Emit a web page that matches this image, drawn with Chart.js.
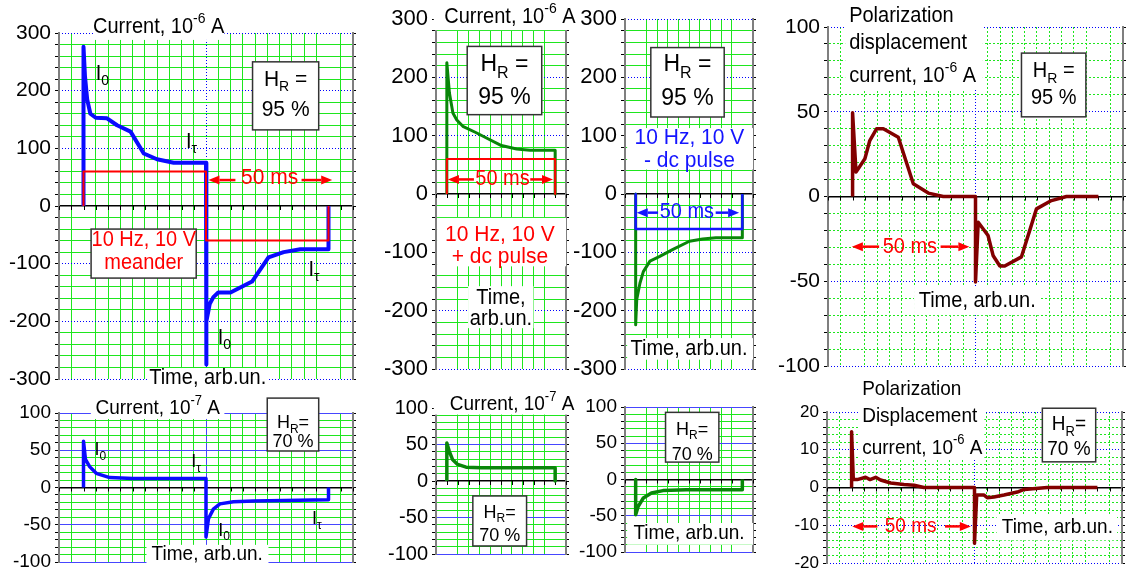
<!DOCTYPE html>
<html>
<head>
<meta charset="utf-8">
<script src="https://cdn.jsdelivr.net/npm/chart.js@4.4.0/dist/chart.umd.min.js"></script>
<style>
  html, body { margin: 0; padding: 0; background: #fff; width: 1127px; height: 572px; overflow: hidden; position: relative; }
  canvas { position: absolute; }
</style>
</head>
<body>
<script>
// time axis in ms, currents in the unit shown in each panel title

// top left: meander, HR 95 %
const aBlueX = [0, 0, 0.6, 1.5, 2.8, 5, 9.6, 13.7, 19.2, 24.6, 30, 36.8, 50, 50, 50.3, 51.5, 53, 55, 60, 68.8, 75.5, 81.7, 88.5, 100, 100];
const aBlueY = [0, 276, 225, 185, 160, 153, 152, 140, 129, 91, 81, 75, 75, -275, -200, -170, -158, -150, -150, -131, -89, -80, -75, -75, 0];
const aRedX = [0, 0, 50, 50, 100, 100];
const aRedY = [0, 60, 60, -60, -60, 0];

// top middle: + dc pulse / - dc pulse
const bGreenX = [0, 0, 1.2, 2.8, 4.6, 7.4, 13.6, 18.3, 25.2, 32.2, 38.4, 50, 50];
const bGreenY = [0, 225, 173, 139, 127, 116, 105, 96, 83, 77, 75, 75, 0];
const bRedX = [0, 0, 50, 50];
const bRedY = [0, 60, 60, 0];
const cGreenX = [0, 0, 0.5, 2, 3.6, 6.7, 11.3, 17.5, 25.2, 31.4, 37.6, 50, 50];
const cGreenY = [0, -224, -181, -153, -133, -115, -107, -95, -81, -77, -75, -75, 0];
const cBlueX = [0, 0, 50, 50];
const cBlueY = [0, -60, -60, 0];

// top right: polarization displacement current, HR 95 %
const dX = [0, 0, 1.4, 5, 7, 9.8, 12.5, 18.6, 24.7, 30.8, 36.9, 50, 50, 51.1, 55.1, 57.2, 59.9, 61.9, 68.7, 74.8, 80.9, 87, 100];
const dY = [0, 49.4, 14.4, 22.3, 33, 40, 40, 35, 7.5, 2, 0, 0, -50.4, -15.2, -23, -35, -41, -41, -35.6, -7.3, -2.4, 0, 0];

// bottom row, HR 70 %
const eX = [0, 0, 0.8, 2.5, 5.2, 10.7, 20.2, 50, 50, 51, 53, 55.7, 61.2, 69.4, 100, 100];
const eY = [0, 62, 37.6, 28, 19, 13.3, 12, 12, -66.4, -42, -29, -22, -19, -18, -16.5, 0];
const fX = [0, 0, 1.1, 2.6, 5, 8.9, 15.8, 50, 50];
const fY = [0, 52, 41, 29.5, 22.7, 19, 18, 18, 0];
const gX = [0, 0, 1.2, 3.6, 7.4, 12.8, 23.7, 50, 50];
const gY = [0, -48.6, -37, -25.5, -18.5, -15.3, -14, -14, 0];
const hX = [0, 0, 0.7, 2.3, 5.7, 7.5, 9.8, 11.8, 15.9, 21.3, 25.4, 29.4, 50, 50, 50.9, 53.9, 55.2, 57.9, 62, 67.4, 70.2, 79.6, 100];
const hY = [0, 14.8, 2.1, 2.1, 2.7, 2.1, 2.7, 2, 1.2, 0.8, 0.6, 0, 0, -14.8, -2, -2, -2.7, -2.5, -2, -1.2, -0.5, 0, 0];

const FONT = "'Liberation Sans', Arial, sans-serif";
const RED = '#ff0000', BLUE = '#1414ff', GREEN = '#0a860a', DRED = '#820000', LBLUE = '#0a0aff';
const GRID_GREEN = '#1ee61e', NONE = 'rgba(0,0,0,0)';

const pts = (xs, ys) => xs.map((x, i) => ({ x: x, y: ys[i] }));

function parseRich(s) {
  const out = [];
  const re = /([_^])\{([^}]*)\}/g;
  let last = 0, m;
  while ((m = re.exec(s))) {
    if (m.index > last) out.push([s.slice(last, m.index), '']);
    out.push([m[2], m[1] === '_' ? 'sub' : 'sup']);
    last = re.lastIndex;
  }
  if (last < s.length) out.push([s.slice(last), '']);
  return out;
}

// text in the source figure is a little taller than plain Arial
const STRETCH = 1.07;

function drawRich(ctx, s, x, y, size, color, align) {
  const parts = parseRich(s).map(([t, m]) => {
    const fs = m ? Math.round(size * 0.68) : size;
    ctx.font = fs + 'px ' + FONT;
    return { t, m, fs, w: ctx.measureText(t).width };
  });
  const total = parts.reduce((a, p) => a + p.w, 0);
  let cx = align === 'left' ? x : x - total / 2;
  ctx.save();
  ctx.translate(0, y);
  ctx.scale(1, STRETCH);
  ctx.fillStyle = color || '#000';
  ctx.textBaseline = 'middle';
  ctx.textAlign = 'left';
  parts.forEach(p => {
    ctx.font = p.fs + 'px ' + FONT;
    const dy = p.m === 'sub' ? size * 0.34 : p.m === 'sup' ? -size * 0.38 : 0;
    ctx.fillText(p.t, cx, dy);
    cx += p.w;
  });
  ctx.restore();
}

function drawDeco(chart, d) {
  const ctx = chart.ctx, sx = chart.scales.x, sy = chart.scales.y;
  const X = v => sx.getPixelForValue(v), Y = v => sy.getPixelForValue(v);
  ctx.save();
  (d.boxes || []).forEach(b => {
    const x1 = X(b.x1), x2 = X(b.x2), y1 = Y(b.y2), y2 = Y(b.y1);
    ctx.fillStyle = '#fff';
    ctx.fillRect(x1, y1, x2 - x1, y2 - y1);
    if (b.b) {
      ctx.strokeStyle = '#333';
      ctx.lineWidth = 1.5;
      ctx.strokeRect(x1, y1, x2 - x1, y2 - y1);
    }
  });
  (d.arrows || []).forEach(a => {
    const x1 = X(a.x1), x2 = X(a.x2), y = Y(a.y);
    const dir = x2 > x1 ? 1 : -1, head = 11;
    ctx.strokeStyle = a.c; ctx.fillStyle = a.c; ctx.lineWidth = 2.5;
    ctx.beginPath(); ctx.moveTo(x1, y); ctx.lineTo(x2 - dir * head, y); ctx.stroke();
    ctx.beginPath(); ctx.moveTo(x2, y); ctx.lineTo(x2 - dir * head, y - 4.5); ctx.lineTo(x2 - dir * head, y + 4.5); ctx.closePath(); ctx.fill();
  });
  (d.texts || []).forEach(t => drawRich(ctx, t.s, X(t.x), Y(t.y), t.size, t.c, t.al));
  ctx.restore();
}

function zeroTicks(chart) {
  const ctx = chart.ctx, sx = chart.scales.x, y0 = chart.scales.y.getPixelForValue(0);
  ctx.save();
  ctx.strokeStyle = '#000'; ctx.lineWidth = 1;
  sx.ticks.forEach(t => {
    const px = Math.round(sx.getPixelForValue(t.value)) + 0.5;
    ctx.beginPath(); ctx.moveTo(px, y0); ctx.lineTo(px, y0 + 4); ctx.stroke();
  });
  ctx.restore();
}

const panels = [
  {
    id: 'A', area: [59, 33, 353, 379], x: [-10, 110], y: [-300, 300, 20, 100], tick: 21, majDash: [1, 2], gDash: [],
    series: [
      { x: aRedX, y: aRedY, c: RED, w: 2 },
      { x: aBlueX, y: aBlueY, c: LBLUE, w: 4 }
    ],
    deco: {
      boxes: [
        { x1: 4.2, x2: 57.5, y1: 288, y2: 328 },
        { x1: 69, x2: 96, y1: 132, y2: 250, b: 1 },
        { x1: 3.1, x2: 46, y1: -125, y2: -40, b: 1 },
        { x1: 26, x2: 75.5, y1: -318, y2: -281 }
      ],
      texts: [
        { x: 30.7, y: 310, s: 'Current, 10^{-6} A', size: 20 },
        { x: 82.5, y: 219, s: 'H_{R} =', size: 21 },
        { x: 82.5, y: 166, s: '95 %', size: 21 },
        { x: 24.6, y: -59, s: '10 Hz, 10 V', size: 20, c: RED },
        { x: 24.6, y: -99, s: 'meander', size: 20, c: RED },
        { x: 76, y: 49, s: '50 ms', size: 21, c: RED },
        { x: 5, y: 229, s: 'I_{0}', size: 20, al: 'left' },
        { x: 41.8, y: 111, s: 'I_{τ}', size: 20, al: 'left' },
        { x: 54.8, y: -229, s: 'I_{0}', size: 20, al: 'left' },
        { x: 91.8, y: -111, s: 'I_{τ}', size: 20, al: 'left' },
        { x: 50.7, y: -298, s: 'Time, arb.un.', size: 20 }
      ],
      arrows: [
        { x1: 62, x2: 51, y: 45, c: RED },
        { x1: 89, x2: 101.5, y: 45, c: RED }
      ]
    }
  },
  {
    id: 'B', area: [436, 19, 566, 369], x: [-5, 55], y: [-300, 300, 20, 100], tick: 22, majDash: [1, 2], gDash: [],
    series: [
      { x: bRedX, y: bRedY, c: RED, w: 2 },
      { x: bGreenX, y: bGreenY, c: GREEN, w: 3 }
    ],
    deco: {
      boxes: [
        { x1: -6, x2: 57, y1: 281, y2: 330 },
        { x1: 9.4, x2: 43.8, y1: 136, y2: 253, b: 1 },
        { x1: -4.5, x2: 55, y1: -124, y2: -41 },
        { x1: 9.8, x2: 40, y1: -230, y2: -158 }
      ],
      texts: [
        { x: 29.1, y: 304, s: 'Current, 10^{-6} A', size: 20 },
        { x: 26.6, y: 222, s: 'H_{R} =', size: 23 },
        { x: 26.6, y: 166, s: '95 %', size: 23 },
        { x: 25.7, y: 25, s: '50 ms', size: 20, c: RED },
        { x: 24.5, y: -70, s: '10 Hz, 10 V', size: 21, c: RED },
        { x: 24.5, y: -107, s: '+ dc pulse', size: 21, c: RED },
        { x: 25, y: -178, s: 'Time,', size: 20 },
        { x: 25, y: -215, s: 'arb.un.', size: 20 }
      ],
      arrows: [
        { x1: 12.5, x2: 0.5, y: 25, c: RED },
        { x1: 38.5, x2: 49, y: 25, c: RED }
      ]
    }
  },
  {
    id: 'C', area: [625, 19, 753, 369], x: [-5, 55], y: [-300, 300, 20, 100], tick: 22, majDash: [1, 2], gDash: [],
    series: [
      { x: cBlueX, y: cBlueY, c: BLUE, w: 2.5 },
      { x: cGreenX, y: cGreenY, c: GREEN, w: 3 }
    ],
    deco: {
      boxes: [
        { x1: 7.1, x2: 41.5, y1: 132, y2: 251, b: 1 },
        { x1: -4, x2: 55, y1: 42, y2: 113 },
        { x1: -4, x2: 55, y1: -284, y2: -247 }
      ],
      texts: [
        { x: 24.3, y: 222, s: 'H_{R} =', size: 23 },
        { x: 24.3, y: 165, s: '95 %', size: 23 },
        { x: 25.2, y: 96, s: '10 Hz, 10 V', size: 21, c: BLUE },
        { x: 25.2, y: 57, s: '- dc pulse', size: 21, c: BLUE },
        { x: 24, y: -31, s: '50 ms', size: 20, c: BLUE },
        { x: 25, y: -266, s: 'Time, arb.un.', size: 20 }
      ],
      arrows: [
        { x1: 10.5, x2: 0.5, y: -32, c: BLUE },
        { x1: 37.5, x2: 48.5, y: -32, c: BLUE }
      ]
    }
  },
  {
    id: 'D', area: [828, 27, 1123, 366], x: [-10, 110], y: [-100, 100, 10, 50], tick: 21, majDash: [1, 2], gDash: [2, 2],
    series: [{ x: dX, y: dY, c: DRED, w: 3.5 }],
    deco: {
      boxes: [
        { x1: -3, x2: 53, y1: 63, y2: 118 },
        { x1: 68.7, x2: 94.9, y1: 47, y2: 84.6, b: 1 },
        { x1: 25, x2: 76, y1: -70, y2: -53 }
      ],
      texts: [
        { x: -1.4, y: 106.3, s: 'Polarization', size: 20, al: 'left' },
        { x: -1.4, y: 90.5, s: 'displacement', size: 20, al: 'left' },
        { x: -1.4, y: 70.8, s: 'current, 10^{-6} A', size: 20, al: 'left' },
        { x: 81.8, y: 73.7, s: 'H_{R} =', size: 20 },
        { x: 81.8, y: 57.9, s: '95 %', size: 20 },
        { x: 23.3, y: -29.6, s: '50 ms', size: 20, c: RED },
        { x: 50.7, y: -62, s: 'Time, arb.un.', size: 20 }
      ],
      arrows: [
        { x1: 10.8, x2: -0.3, y: -29.6, c: RED },
        { x1: 35.8, x2: 47.5, y: -29.6, c: RED }
      ]
    }
  },
  {
    id: 'E', area: [59, 413, 353, 562], x: [-10, 110], y: [-100, 100, 10, 50], tick: 19, majDash: [], gDash: [],
    series: [{ x: eX, y: eY, c: LBLUE, w: 3.5 }],
    deco: {
      boxes: [
        { x1: 3, x2: 57.5, y1: 92, y2: 122 },
        { x1: 75, x2: 96, y1: 49, y2: 120, b: 1 },
        { x1: 25.7, x2: 75.5, y1: -104, y2: -77 }
      ],
      texts: [
        { x: 30.3, y: 106, s: 'Current, 10^{-7} A', size: 19 },
        { x: 85.5, y: 87, s: 'H_{R}=', size: 18 },
        { x: 85.5, y: 62, s: '70 %', size: 18 },
        { x: 4.5, y: 51, s: 'I_{0}', size: 18, al: 'left' },
        { x: 44, y: 35, s: 'I_{τ}', size: 18, al: 'left' },
        { x: 55, y: -57.5, s: 'I_{0}', size: 18, al: 'left' },
        { x: 93.3, y: -42, s: 'I_{τ}', size: 18, al: 'left' },
        { x: 50.5, y: -90, s: 'Time, arb.un.', size: 19 }
      ]
    }
  },
  {
    id: 'F', area: [436, 408, 566, 554], x: [-5, 55], y: [-100, 100, 10, 50], tick: 20, majDash: [], gDash: [],
    series: [{ x: fX, y: fY, c: GREEN, w: 3.5 }],
    deco: {
      boxes: [
        { x1: -6, x2: 57, y1: 91, y2: 125 },
        { x1: 12, x2: 36.8, y1: -89, y2: -20.5, b: 1 }
      ],
      texts: [
        { x: 30.1, y: 104.5, s: 'Current, 10^{-7} A', size: 19 },
        { x: 24.4, y: -43, s: 'H_{R}=', size: 18 },
        { x: 24.4, y: -75, s: '70 %', size: 18 }
      ]
    }
  },
  {
    id: 'G', area: [625, 407, 753, 552], x: [-5, 55], y: [-100, 100, 10, 50], tick: 19, majDash: [], gDash: [],
    series: [{ x: gX, y: gY, c: GREEN, w: 3.5 }],
    deco: {
      boxes: [
        { x1: 14, x2: 39, y1: 24, y2: 92.6, b: 1 },
        { x1: -4, x2: 55, y1: -90, y2: -60 }
      ],
      texts: [
        { x: 26.5, y: 69.4, s: 'H_{R}=', size: 18 },
        { x: 26.5, y: 34.7, s: '70 %', size: 18 },
        { x: 25, y: -75, s: 'Time, arb.un.', size: 19 }
      ]
    }
  },
  {
    id: 'H', area: [827, 412, 1122, 563], x: [-10, 110], y: [-20, 20, 2, 10], tick: 17, majDash: [1, 2], gDash: [2, 2],
    series: [{ x: hX, y: hY, c: DRED, w: 3.5 }],
    deco: {
      boxes: [
        { x1: 3, x2: 54, y1: 7.3, y2: 30 },
        { x1: 77.6, x2: 99.3, y1: 6.8, y2: 21, b: 1 },
        { x1: 59, x2: 108, y1: -14, y2: -7.1 }
      ],
      texts: [
        { x: 4.3, y: 26, s: 'Polarization', size: 19, al: 'left' },
        { x: 4.3, y: 18.8, s: 'Displacement', size: 19, al: 'left' },
        { x: 4.3, y: 10.4, s: 'current, 10^{-6} A', size: 19, al: 'left' },
        { x: 88.4, y: 16.6, s: 'H_{R}=', size: 19 },
        { x: 88.4, y: 10, s: '70 %', size: 19 },
        { x: 24, y: -10.3, s: '50 ms', size: 19, c: RED },
        { x: 83.7, y: -10.5, s: 'Time, arb.un.', size: 19 }
      ],
      arrows: [
        { x1: 10.5, x2: 0.3, y: -10.3, c: RED },
        { x1: 38, x2: 48.5, y: -10.3, c: RED }
      ]
    }
  }
];

function makeChart(p) {
  const [L, T, R, B] = p.area;
  const PL = 64, PT = 40, PR = 22, PB = 30;
  const cv = document.createElement('canvas');
  cv.width = R - L + PL + PR;
  cv.height = B - T + PT + PB;
  cv.style.left = (L - PL) + 'px';
  cv.style.top = (T - PT) + 'px';
  document.body.appendChild(cv);

  const [ymin, ymax, ystep, ymaj] = p.y;
  const majCol = p.majDash.length ? '#0000ff' : '#4646ff';
  const isMaj = (v, m) => Math.abs(v / m - Math.round(v / m)) < 1e-6;

  new Chart(cv, {
    type: 'line',
    data: {
      datasets: p.series.map((s, i) => ({
        data: pts(s.x, s.y),
        borderColor: s.c,
        borderWidth: s.w,
        pointRadius: 0,
        tension: 0,
        fill: false,
        order: i,
        borderJoinStyle: 'round'
      }))
    },
    options: {
      responsive: false,
      animation: false,
      devicePixelRatio: 1,
      layout: { padding: { left: 0, top: PT, right: PR - 3, bottom: PB } },
      plugins: { legend: { display: false }, tooltip: { enabled: false } },
      scales: {
        x: {
          type: 'linear', position: 'bottom', min: p.x[0], max: p.x[1],
          ticks: { display: false, stepSize: 5, autoSkip: false },
          grid: { drawTicks: false, lineWidth: 1, color: c => (c.tick && isMaj(c.tick.value, 50)) ? NONE : GRID_GREEN },
          border: { display: false, dash: p.gDash }
        },
        xM: {
          type: 'linear', position: 'bottom', min: p.x[0], max: p.x[1],
          ticks: { display: false, stepSize: 50, autoSkip: false },
          grid: { drawTicks: false, lineWidth: 1, color: majCol },
          border: { display: false, dash: p.majDash }
        },
        y: {
          type: 'linear', position: 'left', min: ymin, max: ymax,
          afterFit: s => { s.width = PL; },
          ticks: {
            stepSize: ystep, autoSkip: false, padding: 4, color: '#000',
            font: { family: FONT, size: p.tick },
            callback: v => isMaj(v, ymaj) ? String(Math.round(v)) : ''
          },
          grid: {
            lineWidth: 1, tickColor: '#000', tickLength: 4,
            color: c => !c.tick ? GRID_GREEN : (isMaj(c.tick.value, ymaj) ? NONE : GRID_GREEN)
          },
          border: { color: '#7f7f7f', width: 2, dash: p.gDash }
        },
        yM: {
          type: 'linear', position: 'left', min: ymin, max: ymax,
          ticks: { display: false, stepSize: ymaj, autoSkip: false },
          grid: { drawTicks: false, lineWidth: 1, color: c => (c.tick && c.tick.value === 0) ? NONE : majCol },
          border: { display: false, dash: p.majDash }
        },
        y0: {
          type: 'linear', position: 'left', min: ymin, max: ymax,
          afterBuildTicks: s => { s.ticks = [{ value: 0 }]; },
          ticks: { display: false },
          grid: { drawTicks: false, lineWidth: 1.5, color: '#000' },
          border: { display: false }
        },
        yR: {
          type: 'linear', position: 'right', min: ymin, max: ymax,
          afterFit: s => { s.width = 3; },
          ticks: { display: false, stepSize: ystep, autoSkip: false },
          grid: { drawOnChartArea: false, drawTicks: true, tickLength: 3, tickColor: '#000' },
          border: { color: '#7f7f7f', width: 2 }
        }
      }
    },
    plugins: [{
      id: 'deco' + p.id,
      beforeDatasetsDraw: c => zeroTicks(c),
      afterDraw: c => drawDeco(c, p.deco)
    }]
  });
}

panels.forEach(makeChart);
</script>
</body>
</html>
